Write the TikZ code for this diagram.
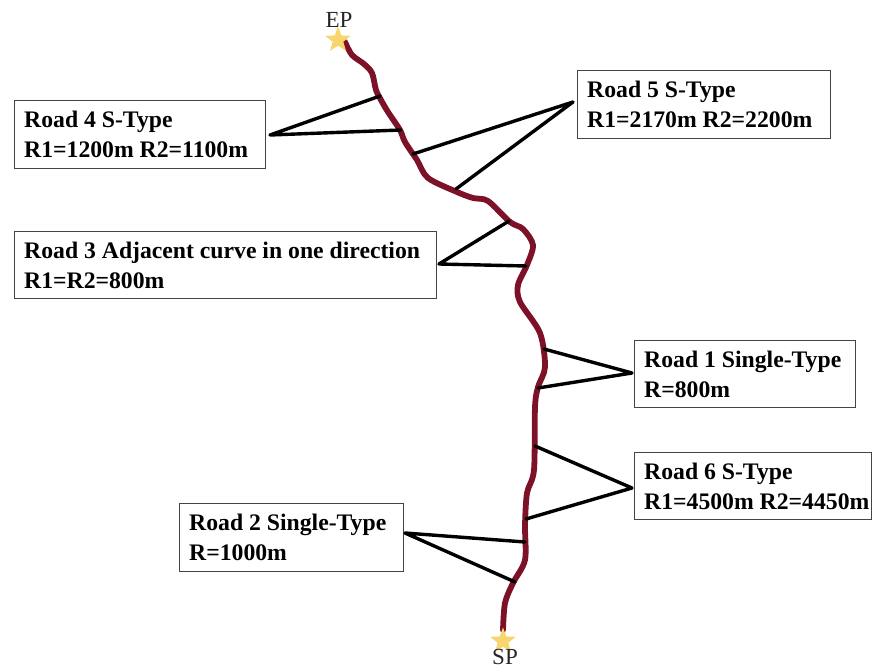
\documentclass[tikz,border=0pt]{standalone}
\usepackage{fontspec}
\setmainfont{Liberation Serif}
\usetikzlibrary{shapes.geometric}
\definecolor{roadc}{HTML}{7D1128}
\definecolor{starc}{HTML}{F9D56E}
\definecolor{boxc}{HTML}{444444}
\tikzset{
  infobox/.style={draw=boxc,line width=1.1pt,fill=white,anchor=north west,inner sep=0pt},
  infotext/.style={font=\fontsize{23.7}{30}\selectfont\bfseries,align=left,anchor=west,inner sep=0pt},
  leader/.style={draw=black,line width=3.4pt,line cap=round,line join=round},
  road/.style={draw=roadc,line width=5.8pt,line cap=round,line join=round},
  endstar/.style={star,star points=5,star point ratio=2.4,fill=starc,draw=none,minimum size=27pt,inner sep=0pt},
  endlabel/.style={font=\fontsize{23}{25}\selectfont,text=black!85,inner sep=0pt}
}
\newcommand{\infobox}[7]{%
  \node[infobox,minimum width=#4pt,minimum height=#5pt] (#1) at (#2,#3) {};
  \node[infotext] (#1t) at ([xshift=10pt]#1.west) {#6\\#7};
}
\begin{document}
\begin{tikzpicture}[x=1pt,y=-1pt]
\useasboundingbox (0,0) rectangle (883,668);
% road
\draw[road] plot[smooth,tension=0.5] coordinates {(345,42) (352,55) (364,64) (372,73) (376,90) (381,100) (388,112) (400,130) (405,142) (417,160) (428,178) (457,192) (473,198) (488,201) (510,222) (523,229) (533,245) (527,265) (518,285) (520,302) (540,333) (545,367) (538,387) (535,407) (534,470) (527,493) (525,525) (525,560) (513,583) (505,603) (503,630)};
\node[endstar] (ep) at (338,40) {};
\node[endstar] (sp) at (503,641) {};
\node[endlabel] (epl) at (339,20) {EP};
\node[endlabel] (spl) at (505,656.5) {SP};
% boxes
\infobox{r4}{14}{100}{251}{68}{Road 4 S-Type}{R1=1200m R2=1100m}
\infobox{r5}{577}{70}{253}{68}{Road 5 S-Type}{R1=2170m R2=2200m}
\infobox{r3}{14}{231}{422}{67}{Road 3 Adjacent curve in one direction}{R1=R2=800m}
\infobox{r1}{634}{340}{221}{67}{Road 1 Single-Type}{R=800m}
\infobox{r6}{634}{452}{237}{67}{Road 6 S-Type}{R1=4500m R2=4450m}
\infobox{r2}{179}{503}{224}{68}{Road 2 Single-Type}{R=1000m}
% leader anchors
\coordinate (t4) at (270,135);
\coordinate (a4) at (380,96);
\coordinate (b4) at (401,130);
\coordinate (t5) at (573,102);
\coordinate (a5) at (413,154);
\coordinate (b5) at (456,189);
\coordinate (t3) at (439,264);
\coordinate (a3) at (509,221);
\coordinate (b3) at (526,266);
\coordinate (t1) at (632,373);
\coordinate (a1) at (544,349);
\coordinate (b1) at (538,388);
\coordinate (t6) at (632,488);
\coordinate (a6) at (535,446);
\coordinate (b6) at (526,519);
\coordinate (t2) at (405,533);
\coordinate (a2) at (525,542);
\coordinate (b2) at (515,582);
\foreach \n in {4,5,3,1,6,2}{
  \draw[leader] (a\n) -- (t\n) -- (b\n);
}
\end{tikzpicture}
\end{document}
